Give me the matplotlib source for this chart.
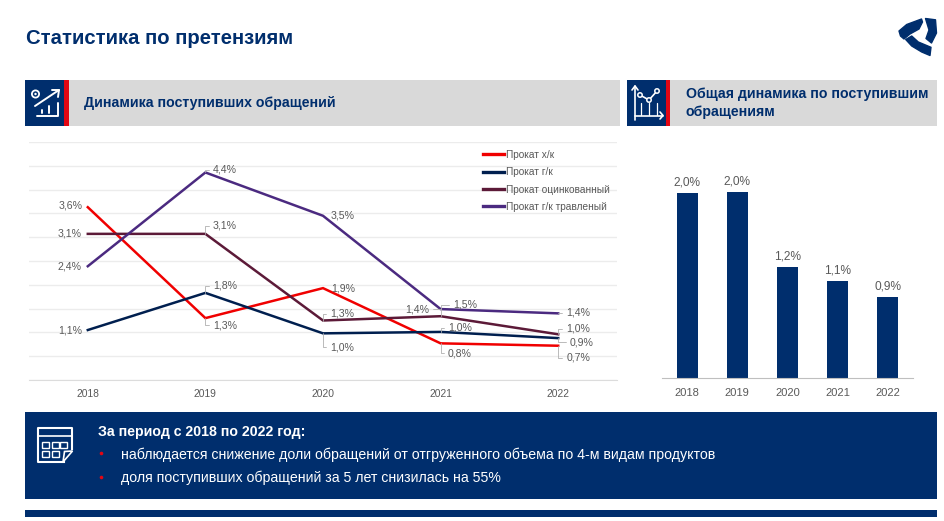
import matplotlib
matplotlib.use('Agg')
import matplotlib.pyplot as plt
from matplotlib.patches import Rectangle, Polygon, Circle

NAVY = '#002e6d'
RED = '#e30613'
GREY_TXT = '#595959'

plt.rcParams['font.family'] = ['Liberation Sans', 'DejaVu Sans']

years = ['2018', '2019', '2020', '2021', '2022']

# line chart values, percent
prokat_hk = [3.63, 1.30, 1.93, 0.77, 0.72]
prokat_gk = [1.05, 1.83, 0.98, 1.01, 0.88]
prokat_ocink = [3.07, 3.07, 1.25, 1.34, 0.96]
prokat_travl = [2.39, 4.36, 3.45, 1.49, 1.40]

labels_hk = ['3,6%', '1,3%', '1,9%', '0,8%', '0,7%']
labels_gk = ['1,1%', '1,8%', '1,0%', '1,0%', '0,9%']
labels_ocink = ['3,1%', '3,1%', '1,3%', '1,4%', '1,0%']
labels_travl = ['2,4%', '4,4%', '3,5%', '1,5%', '1,4%']

# bar chart
total_values = [2.00, 2.01, 1.20, 1.05, 0.88]
total_labels = ['2,0%', '2,0%', '1,2%', '1,1%', '0,9%']

fig = plt.figure(figsize=(9.44, 5.21), dpi=100)
W, H = 944.0, 521.0


def px_axes(left, top, right, bottom):
    return fig.add_axes([left / W, 1 - bottom / H, (right - left) / W, (bottom - top) / H])


# page layer in pixel coordinates
bg = fig.add_axes([0, 0, 1, 1])
bg.set_xlim(0, W)
bg.set_ylim(H, 0)
bg.axis('off')


def box(x0, y0, x1, y1, color):
    bg.add_patch(Rectangle((x0, y0), x1 - x0, y1 - y0, facecolor=color, edgecolor='none'))


def stroke(xs, ys, lw=1.4):
    bg.plot(xs, ys, color='white', lw=lw, solid_capstyle='round')


bg.text(26, 39, 'Статистика по претензиям', color=NAVY, fontsize=14.6, fontweight='bold', va='center')

# logo
for blade in [
    [(899, 31), (906.7, 24.5), (921.5, 19), (922.5, 22), (919, 29), (910, 34), (904, 39), (900.5, 36)],
    [(925.5, 18.5), (935.5, 19.8), (936.5, 33), (931.5, 43), (926, 38.5), (929, 30)],
    [(905.7, 39.5), (911.7, 36), (918.3, 42), (931, 47.3), (930, 55.5), (921.7, 52), (911.7, 46)],
]:
    bg.add_patch(Polygon(blade, closed=True, facecolor=NAVY, edgecolor=NAVY, lw=1, joinstyle='round'))

# section headers
box(25, 80, 620, 125.5, '#d9d9d9')
box(25, 80, 64, 125.5, NAVY)
box(64, 80, 69, 125.5, RED)
bg.text(84, 102.5, 'Динамика поступивших обращений', color=NAVY, fontsize=10.2, fontweight='bold', va='center')

box(627, 80, 937, 125.5, '#d9d9d9')
box(627, 80, 666, 125.5, NAVY)
box(666, 80, 670, 125.5, RED)
bg.text(686, 94, 'Общая динамика по поступившим', color=NAVY, fontsize=10.15, fontweight='bold', va='center')
bg.text(686, 112, 'обращениям', color=NAVY, fontsize=10.15, fontweight='bold', va='center')

# icon left
bg.add_patch(Circle((35.5, 94), 3.6, facecolor='none', edgecolor='white', lw=1.3))
bg.add_patch(Circle((35.5, 94), 1.2, facecolor='white', edgecolor='none'))
stroke([35, 59], [106, 90])
stroke([52, 59, 58], [90, 90, 97])
stroke([37, 58, 58], [116, 116, 103])
stroke([42, 42], [113, 110])
stroke([49, 49], [113, 106])

# icon right
stroke([635, 635], [120, 86], 1.2)
stroke([632, 635, 638], [90, 86, 90], 1.2)
stroke([635, 663], [115.5, 115.5], 1.2)
stroke([660, 663, 660], [112, 115.5, 119], 1.2)
stroke([640, 649, 657], [95, 100, 91], 1.2)
for cx, cy in [(640, 95), (649, 100), (657, 91)]:
    bg.add_patch(Circle((cx, cy), 2.2, facecolor=NAVY, edgecolor='white', lw=1.1, zorder=4))
for gx in [641, 649, 657]:
    stroke([gx, gx], [103, 115], 0.9)

# bottom block
box(25, 412, 937, 499, NAVY)
box(25, 510, 937, 517, NAVY)
bg.plot([64, 38, 38, 72, 72], [462, 462, 427.5, 427.5, 449], color='white', lw=1.5)
stroke([38, 72], [436, 436], 1.2)
for row_y in [441.7, 450.7]:
    for col_x in [42, 51.5, 60]:
        if row_y == 450.7 and col_x == 60:
            continue
        bg.add_patch(Rectangle((col_x, row_y), 7, 6.3, facecolor='none', edgecolor='white', lw=1))
bg.add_patch(Polygon([(63, 462), (72.5, 451), (64.5, 451.5)], closed=True, facecolor=NAVY, edgecolor='white', lw=1.2))

bg.text(98, 432, 'За период с 2018 по 2022 год:', color='white', fontsize=10.2, fontweight='bold', va='center')
bg.text(121, 454.5, 'наблюдается снижение доли обращений от отгруженного объема по 4-м видам продуктов',
        color='white', fontsize=10.17, va='center')
bg.text(121, 478, 'доля поступивших обращений за 5 лет снизилась на 55%', color='white', fontsize=10.17, va='center')
bg.plot([101, 101], [453, 477], 'o', color=RED, ms=2.6, mec='none')

# line chart
ax = px_axes(29, 142, 617, 380)
ax.patch.set_alpha(0)
x = range(len(years))
ax.plot(x, prokat_hk, color='#f00000', lw=1.8, solid_joinstyle='miter', label='Прокат х/к')
ax.plot(x, prokat_gk, color='#001f4f', lw=1.8, solid_joinstyle='miter', label='Прокат г/к')
ax.plot(x, prokat_ocink, color='#5c1a38', lw=1.8, solid_joinstyle='miter', label='Прокат оцинкованный')
ax.plot(x, prokat_travl, color='#4b2a80', lw=1.8, solid_joinstyle='miter', label='Прокат г/к травленый')
ax.set_xlim(-0.5, 4.5)
ax.set_ylim(0, 5)
ax.set_yticks([i * 0.5 for i in range(11)])
ax.tick_params(axis='y', left=False, labelleft=False)
ax.tick_params(axis='x', bottom=False, pad=3, labelsize=7.4, labelcolor=GREY_TXT)
ax.set_xticks(list(x))
ax.set_xticklabels(years)
ax.grid(axis='y', color='#ececec', lw=1)
ax.set_axisbelow(True)
for s in ['top', 'right', 'left']:
    ax.spines[s].set_visible(False)
ax.spines['bottom'].set_color('#dcdcdc')

leg = ax.legend(loc='upper left', bbox_to_anchor=(451 / 588, 0.979), frameon=False, fontsize=7.3,
                labelcolor=GREY_TXT, handlelength=2.07, handletextpad=0.2, labelspacing=0.72,
                borderaxespad=0, borderpad=0.3)
for h in leg.get_lines():
    h.set_linewidth(2.4)

# label offsets in points from the data point
offs = {
    'hk': [(-12.5, 1), (14, -5), (14.5, 0), (14, -7), (14.5, -8.7)],
    'gk': [(-13, 0), (14, 5), (14, -10), (14, 3), (17, -3)],
    'ocink': [(-13, 0), (14, 5.8), (14, 5), (-17, 5), (14.5, 4)],
    'travl': [(-13, 0), (14, 2), (14, 0), (18, 3), (14.5, 0.5)],
}


def put_labels(values, labels, key, leader):
    for i, (v, t) in enumerate(zip(values, labels)):
        dx, dy = offs[key][i]
        has_leader = leader[i]
        ax.annotate(t, (i, v), xytext=(dx, dy), textcoords='offset points', fontsize=7.6, color=GREY_TXT,
                    ha='center', va='center',
                    arrowprops=dict(arrowstyle='-', color='#b0b0b0', lw=0.6, shrinkA=1, shrinkB=0,
                                    connectionstyle='angle,angleA=0,angleB=90,rad=0') if has_leader else None)


put_labels(prokat_hk, labels_hk, 'hk', [False, True, False, True, True])
put_labels(prokat_gk, labels_gk, 'gk', [False, True, True, True, True])
put_labels(prokat_ocink, labels_ocink, 'ocink', [False, True, True, True, True])
put_labels(prokat_travl, labels_travl, 'travl', [False, True, False, True, True])

# bar chart
bx = px_axes(662, 142, 913, 378)
bx.patch.set_alpha(0)
bars = bx.bar(years, total_values, width=0.42, color=NAVY)
bx.set_xlim(-0.5, 4.5)
bx.set_ylim(0, 236 / 92.5)
bx.set_yticks([])
for s in ['top', 'right', 'left']:
    bx.spines[s].set_visible(False)
bx.spines['bottom'].set_color('#bfbfbf')
bx.tick_params(axis='x', bottom=False, pad=3.5, labelsize=8, labelcolor=GREY_TXT)
for r, t in zip(bars, total_labels):
    bx.annotate(t, (r.get_x() + r.get_width() / 2, r.get_height()), xytext=(0, 3), textcoords='offset points',
                ha='center', va='bottom', fontsize=8.6, color=GREY_TXT)

fig.savefig('out.png', dpi=100)
